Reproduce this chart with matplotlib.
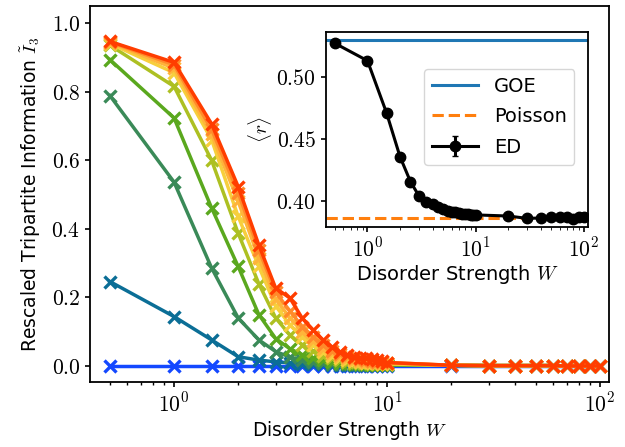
import numpy as np
import matplotlib
matplotlib.use('Agg')
import matplotlib.pyplot as plt
from matplotlib.ticker import FuncFormatter, FormatStrFormatter

plt.rcParams['font.family'] = ['DejaVu Sans']
plt.rcParams['mathtext.fontset'] = 'cm'

# disorder strengths used in the main plot and in the inset
W = [0.5, 1, 1.5, 2, 2.5, 3, 3.5, 4, 4.5, 5, 5.5, 6, 6.5, 7, 7.5, 8, 8.5, 9, 9.5, 10,
     20, 30, 40, 50, 60, 70, 80, 90, 100]

# rescaled tripartite information, one list per curve (blue -> red)
tail = [0.002, 0.001, 0.001, 0.001, 0.001, 0.0, 0.0, 0.0, 0.0]
I3_blue = [0.0] * 20 + [0.0] * 9
I3_teal = [0.246, 0.144, 0.076, 0.027, 0.017, 0.012, 0.009, 0.007, 0.006, 0.005,
           0.004, 0.004, 0.003, 0.003, 0.003, 0.002, 0.002, 0.002, 0.002, 0.002] + tail
I3_darkgreen = [0.788, 0.536, 0.286, 0.14, 0.076, 0.042, 0.026, 0.017, 0.012, 0.009,
                0.007, 0.006, 0.005, 0.004, 0.004, 0.003, 0.003, 0.003, 0.002, 0.002] + tail
I3_green = [0.893, 0.723, 0.461, 0.29, 0.15, 0.08, 0.05, 0.033, 0.023, 0.016,
            0.012, 0.01, 0.008, 0.007, 0.006, 0.005, 0.004, 0.004, 0.003, 0.003] + tail
I3_yellowgreen = [0.935, 0.815, 0.6, 0.387, 0.24, 0.14, 0.09, 0.062, 0.043, 0.03,
                  0.022, 0.017, 0.013, 0.01, 0.009, 0.008, 0.007, 0.006, 0.005, 0.005] + tail
I3_yellow = [0.94, 0.855, 0.66, 0.436, 0.29, 0.175, 0.12, 0.085, 0.06, 0.042,
             0.03, 0.023, 0.018, 0.015, 0.012, 0.01, 0.009, 0.008, 0.007, 0.006] + tail
I3_lightorange = [0.943, 0.868, 0.675, 0.48, 0.315, 0.195, 0.14, 0.1, 0.072, 0.05,
                  0.037, 0.028, 0.022, 0.018, 0.015, 0.013, 0.011, 0.01, 0.009, 0.008] + tail
I3_orange = [0.945, 0.878, 0.69, 0.505, 0.338, 0.215, 0.16, 0.115, 0.085, 0.06,
             0.045, 0.035, 0.028, 0.023, 0.02, 0.017, 0.015, 0.013, 0.011, 0.01] + tail
I3_red = [0.946, 0.885, 0.706, 0.523, 0.353, 0.227, 0.198, 0.139, 0.105, 0.076,
          0.055, 0.042, 0.033, 0.027, 0.024, 0.022, 0.02, 0.018, 0.015, 0.01] + tail

curves = [I3_blue, I3_teal, I3_darkgreen, I3_green, I3_yellowgreen,
          I3_yellow, I3_lightorange, I3_orange, I3_red]
colors = ['#1448ff', '#0b6e96', '#3a8a58', '#5aa81e', '#adc022',
          '#f7cf3c', '#ffb43a', '#ff8a2a', '#ff3d00']

# mean level spacing ratio (inset)
r_ED = [0.5276, 0.5135, 0.4713, 0.4357, 0.4154, 0.4038, 0.3992, 0.397, 0.395, 0.3935,
        0.392, 0.391, 0.3905, 0.390, 0.3895, 0.389, 0.389, 0.3888, 0.3885, 0.3885,
        0.3876, 0.3857, 0.386, 0.3865, 0.387, 0.3868, 0.3855, 0.3872, 0.3866]
r_err = [0.0005] * len(W)
r_GOE = 0.5307
r_Poisson = 0.3863


def log_fmt(v, pos):
    return r'$10^{%d}$' % int(round(np.log10(v)))


fig = plt.figure(figsize=(6.25, 4.47), dpi=100)

# main plot
ax = fig.add_axes([0.144, 0.146, 0.830, 0.841])
for vals, c in zip(curves, colors):
    ax.plot(W, vals, '-x', color=c, lw=2.5, ms=9, mew=2.4)
ax.set_xscale('log')
ax.set_xlim(0.403, 110)
ax.set_ylim(-0.046, 1.05)
ax.set_yticks([0.0, 0.2, 0.4, 0.6, 0.8, 1.0])
ax.yaxis.set_major_formatter(FormatStrFormatter('$%.1f$'))
ax.xaxis.set_major_formatter(FuncFormatter(log_fmt))
ax.tick_params(labelsize=15.5, width=1.2)
ax.tick_params(which='minor', width=1)
for s in ax.spines.values():
    s.set_linewidth(1.3)
ax.set_xlabel('Disorder Strength $W$', fontsize=13.5, labelpad=3)
ax.set_ylabel(r'Rescaled Tripartite Information $\tilde{I}_3$', fontsize=13.5, labelpad=6)

# inset with level statistics
ins = fig.add_axes([0.521, 0.493, 0.420, 0.436])
ins.axhline(r_GOE, color='#1f77b4', lw=2.2, label='GOE')
ins.axhline(r_Poisson, color='#ff7f0e', lw=2.2, ls='--', label='Poisson')
ins.errorbar(W, r_ED, yerr=r_err, color='k', marker='o', ms=7.5, lw=2.2,
             capsize=2.5, label='ED')
ins.set_xscale('log')
ins.set_xlim(0.41, 110)
ins.set_ylim(0.379, 0.537)
ins.set_yticks([0.40, 0.45, 0.50])
ins.yaxis.set_major_formatter(FormatStrFormatter('$%.2f$'))
ins.xaxis.set_major_formatter(FuncFormatter(log_fmt))
ins.tick_params(labelsize=15.5, width=1.2)
for s in ins.spines.values():
    s.set_linewidth(1.3)
ins.set_xlabel('Disorder Strength $W$', fontsize=14, labelpad=2)
ins.set_ylabel(r'$\langle r \rangle$', fontsize=14, labelpad=2)
ins.legend(loc='upper right', bbox_to_anchor=(0.985, 0.86), fontsize=14,
           handlelength=2.4, labelspacing=0.6)

fig.savefig('out.png', dpi=100)
